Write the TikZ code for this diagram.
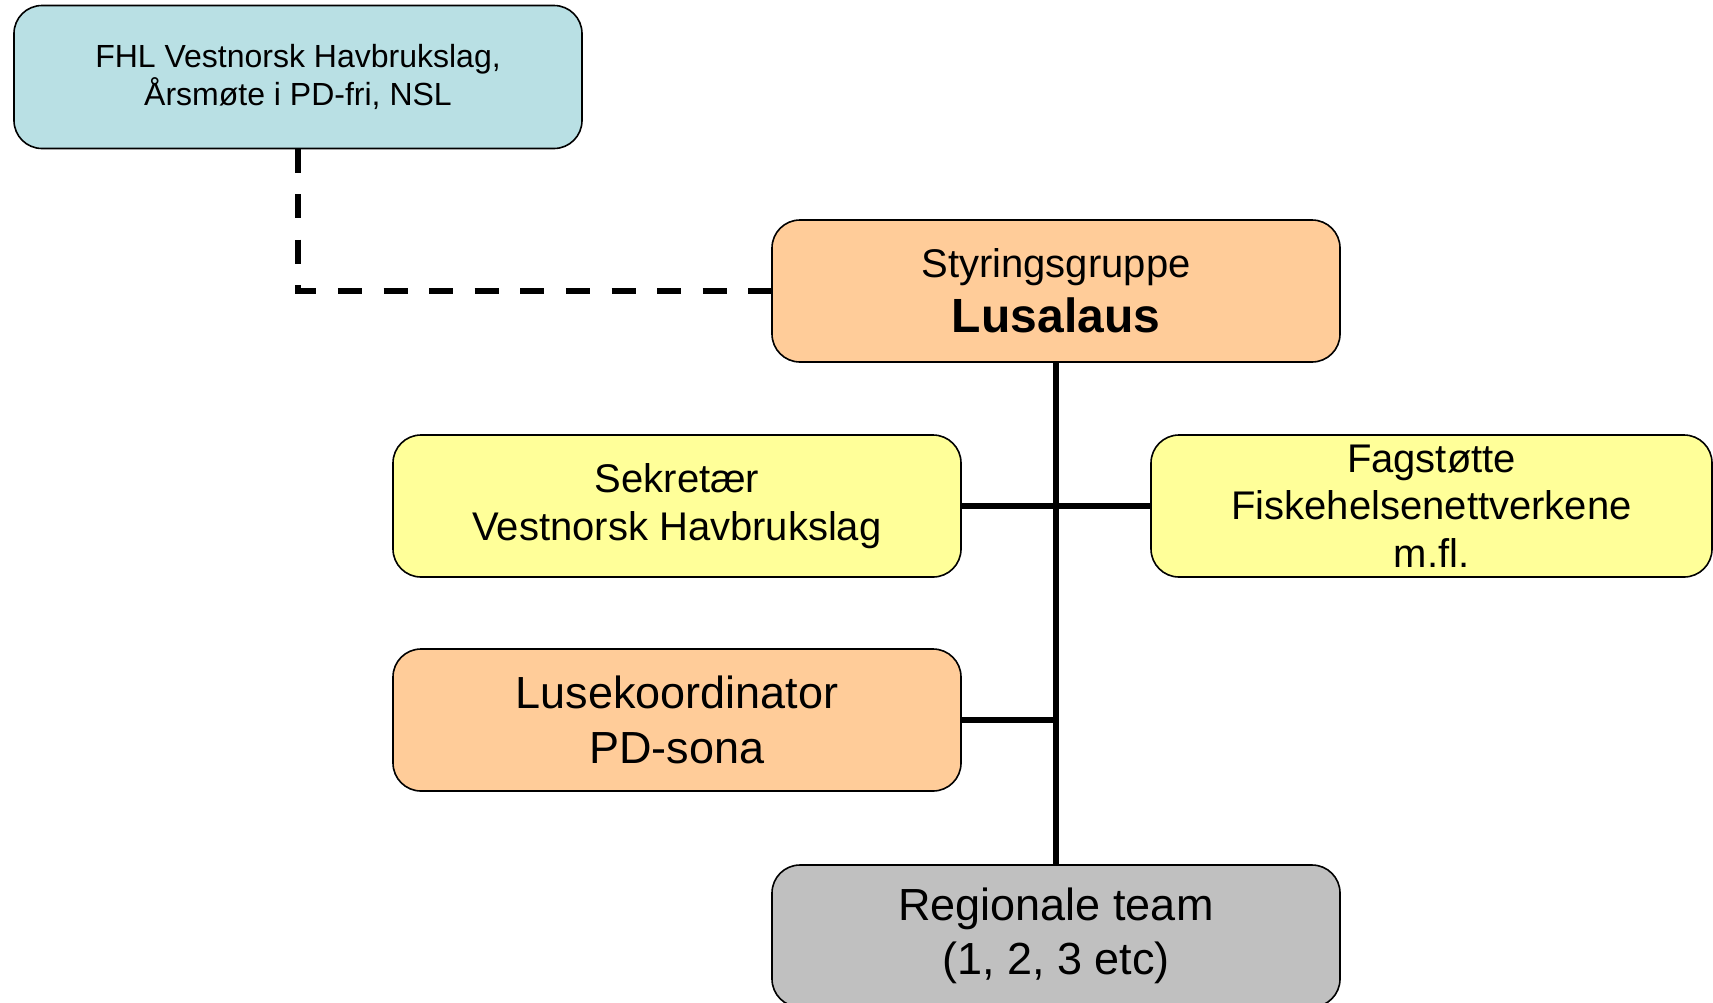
\documentclass[tikz,border=0pt]{standalone}
\usepackage{fontspec}
\setmainfont{Liberation Sans}
\definecolor{cyanfill}{RGB}{185,224,228}
\definecolor{peach}{RGB}{255,204,153}
\definecolor{lightyellow}{RGB}{255,255,153}
\definecolor{greyfill}{RGB}{192,192,192}
\tikzset{
  orgbox/.style={draw=black, line width=0.8pt, rounded corners=14pt, outer sep=0pt, inner sep=2pt,
    align=center, minimum width=284pt, minimum height=71pt},
  conn/.style={line width=2.8pt, black},
  dconn/.style={line width=2.7pt, black, dash pattern=on 12pt off 10.8pt},
}
\begin{document}
\begin{tikzpicture}[x=0.5pt,y=-0.5pt]
\useasboundingbox (0,0) rectangle (1713,1002);
\clip (0,0) rectangle (1713,1002);
\node[orgbox, fill=cyanfill, minimum height=71.5pt, font=\fontsize{16}{19}\selectfont] (fhl) at (298,77)
  {FHL Vestnorsk Havbrukslag,\\Årsmøte i PD-fri, NSL};
\node[orgbox, fill=peach, font=\fontsize{20}{27.5}\selectfont] (styr) at (1056,291)
  {Styringsgruppe\\{\fontsize{24}{27.5}\selectfont\bfseries Lusalaus}};
\node[orgbox, fill=lightyellow, font=\fontsize{20}{24}\selectfont] (sekr) at (677,506)
  {\rule{0pt}{0pt}\raisebox{-2.5pt}{\parbox{280pt}{\centering Sekretær\\Vestnorsk Havbrukslag}}};
\node[orgbox, fill=lightyellow, minimum width=280.5pt, font=\fontsize{20}{23.75}\selectfont] (fag) at (1431.5,506)
  {Fagstøtte\\Fiskehelsenettverkene\\m.fl.};
\node[orgbox, fill=peach, font=\fontsize{22.5}{27.5}\selectfont] (luse) at (677,720)
  {Lusekoordinator\\PD-sona};
\node[orgbox, fill=greyfill, font=\fontsize{22.5}{27}\selectfont] (reg) at (1056,936)
  {Regionale team\\(1, 2, 3 etc)};
\coordinate (dcorner) at (fhl.south |- styr.west);
\coordinate (ljoin) at (styr.south |- luse.east);
\draw[dconn] (fhl.south) -- (dcorner) -- (styr.west);
\draw[conn] (styr.south) -- (reg.north);
\draw[conn] (sekr.east) -- (fag.west);
\draw[conn] (luse.east) -- (ljoin);
\end{tikzpicture}
\end{document}
